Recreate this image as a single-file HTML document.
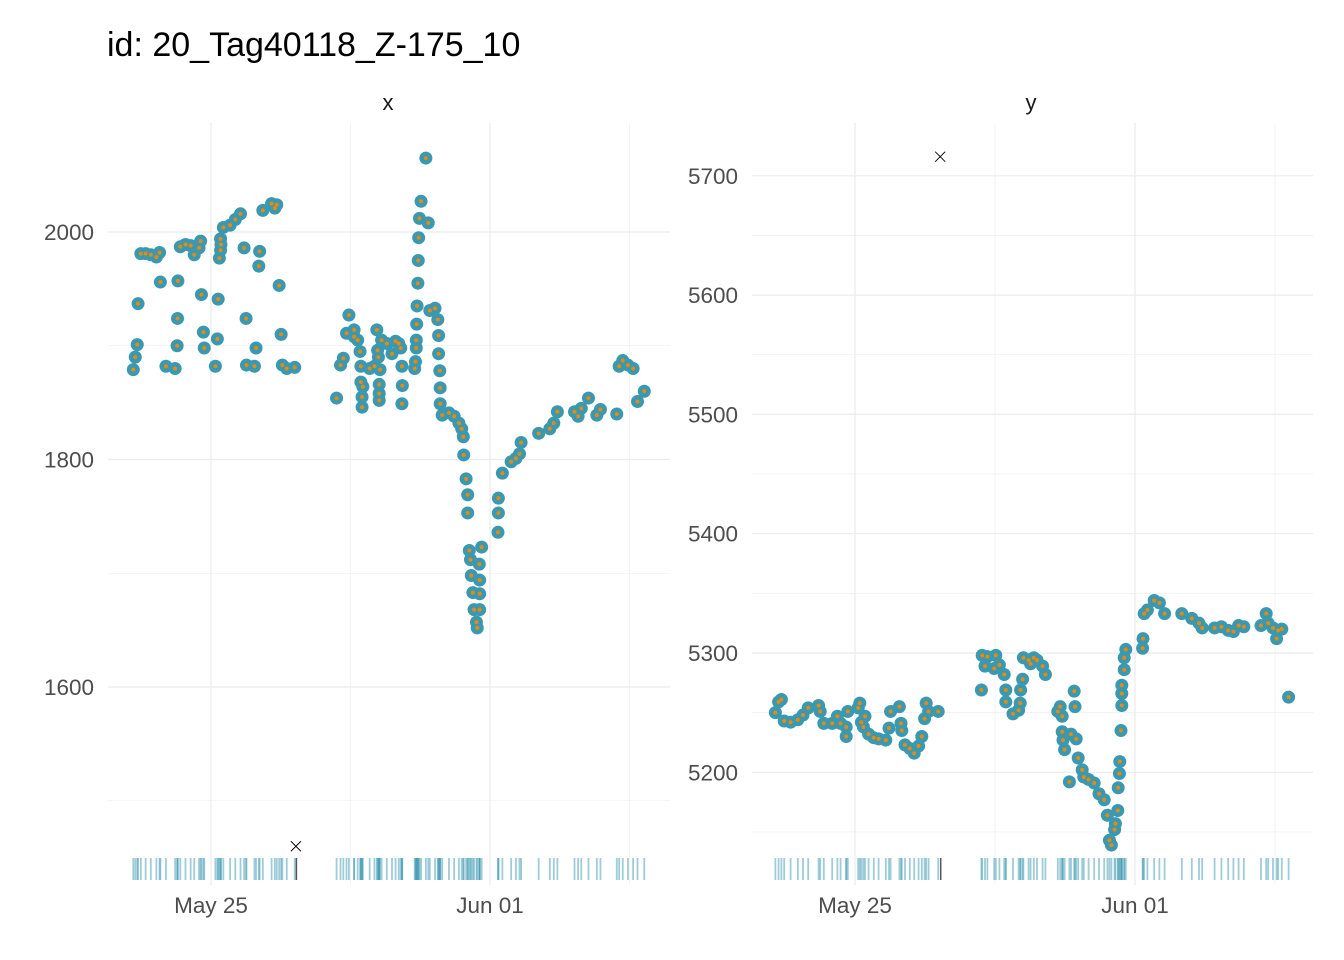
<!DOCTYPE html>
<html><head><meta charset="utf-8"><style>
body{margin:0;background:#fff;}
svg{display:block;font-family:"Liberation Sans",sans-serif;}
</style></head><body>
<svg id="chart" width="1344" height="960"></svg>
<script>
const dayX=[-1.95,-1.90,-1.85,-1.83,-1.76,-1.64,-1.51,-1.37,-1.29,-1.27,-1.13,-0.90,-0.85,-0.84,-0.83,-0.77,-0.64,-0.51,-0.42,-0.30,-0.26,-0.24,-0.19,-0.17,0.11,0.16,0.18,0.21,0.24,0.25,0.24,0.31,0.48,0.61,0.74,0.83,0.88,0.89,1.09,1.13,1.20,1.22,1.30,1.52,1.60,1.65,1.71,1.76,1.79,1.90,2.10,3.15,3.25,3.32,3.40,3.46,3.59,3.59,3.68,3.74,3.76,3.81,3.79,3.79,3.76,3.98,4.10,4.24,4.16,4.18,4.20,4.22,4.22,4.22,4.28,4.41,4.54,4.63,4.71,4.76,4.79,4.80,4.79,5.11,5.13,5.15,5.15,5.16,5.17,5.19,5.20,5.21,5.23,5.27,5.45,5.39,5.49,5.62,5.69,5.71,5.71,5.74,5.75,5.75,5.80,5.97,6.10,6.22,6.29,6.33,6.34,6.40,6.44,6.44,6.79,6.73,6.48,6.51,6.53,6.74,6.57,6.74,6.60,6.74,6.66,6.68,7.20,7.21,7.21,7.31,7.53,7.65,7.74,7.78,8.22,8.50,8.60,8.69,9.12,9.21,9.29,9.47,9.68,9.77,10.18,10.24,10.33,10.46,10.59,10.70,10.87];
const valX=[1879,1890,1901,1937,1981,1981,1980,1978,1982,1956,1882,1880,1900,1924,1957,1987,1989,1988,1980,1986,1992,1945,1912,1898,1882,1906,1941,1977,1984,1989,1994,2004,2006,2011,2016,1986,1924,1883,1882,1898,1970,1983,2019,2025,2021,2024,1953,1910,1883,1880,1881,1854,1883,1889,1911,1927,1914,1908,1905,1895,1868,1864,1855,1846,1882,1880,1882,1879,1914,1896,1890,1866,1858,1852,1905,1902,1893,1904,1902,1898,1882,1865,1849,1880,1886,1898,1905,1919,1935,1955,1975,1995,2012,2027,2008,2065,1931,1933,1923,1909,1893,1878,1863,1849,1839,1841,1838,1832,1827,1820,1804,1783,1769,1753,1723,1708,1720,1712,1698,1694,1683,1682,1668,1668,1657,1652,1736,1753,1766,1788,1798,1801,1805,1815,1823,1827,1832,1842,1842,1838,1845,1854,1839,1844,1840,1882,1887,1883,1880,1851,1860];
const dayY=[-1.99,-1.91,-1.84,-1.77,-1.61,-1.43,-1.30,-1.17,-0.91,-0.87,-0.78,-0.57,-0.44,-0.36,-0.22,-0.22,-0.18,0.08,0.12,0.16,0.25,0.21,0.34,0.47,0.59,0.77,0.85,0.89,1.11,1.15,1.17,1.25,1.37,1.48,1.59,1.67,1.74,1.78,1.84,2.08,3.16,3.18,3.31,3.52,3.48,3.25,3.61,3.73,3.77,3.77,3.95,4.09,4.13,4.14,4.19,4.21,4.34,4.47,4.39,4.55,4.69,4.76,5.07,5.13,5.18,5.18,5.20,5.24,5.36,5.40,5.48,5.50,5.53,5.58,5.68,5.72,5.84,5.98,6.10,6.23,6.31,6.36,6.41,6.49,6.51,6.57,6.58,6.61,6.62,6.65,6.67,6.67,6.67,6.73,6.73,6.77,7.19,7.20,7.23,7.31,7.48,7.61,7.74,8.17,8.42,8.60,8.68,8.99,9.16,9.33,9.46,9.59,9.72,10.15,10.28,10.33,10.45,10.54,10.58,10.67,10.84];
const valY=[5250,5259,5261,5243,5242,5244,5248,5254,5256,5251,5241,5241,5247,5241,5238,5230,5251,5254,5258,5242,5247,5238,5232,5229,5228,5227,5237,5251,5255,5241,5235,5223,5220,5216,5222,5230,5245,5258,5251,5251,5269,5298,5297,5298,5287,5289,5290,5282,5269,5259,5249,5252,5258,5269,5278,5296,5294,5296,5291,5294,5289,5282,5251,5255,5247,5234,5227,5219,5192,5232,5268,5255,5228,5212,5202,5196,5194,5191,5182,5177,5164,5143,5139,5152,5157,5168,5187,5199,5209,5235,5256,5266,5273,5286,5296,5303,5304,5312,5333,5336,5344,5342,5333,5333,5329,5325,5321,5321,5322,5319,5318,5323,5322,5323,5333,5325,5321,5312,5319,5320,5263];
const outlierDay=[2.13];
const outlierX=[1460];
const outlierY=[5716];
const xTickDays=[0,7];
const xTickLabels=["May 25","Jun 01"];
const yTicksX=[1600,1800,2000];
const yMinorX=[1500,1700,1900];
const yTicksY=[5200,5300,5400,5500,5600,5700];
const yMinorY=[5150,5250,5350,5450,5550,5650];

const NS="http://www.w3.org/2000/svg";
const svg=document.getElementById('chart');
function mk(tag,attrs,parent){const e=document.createElementNS(NS,tag);for(const k in attrs)e.setAttribute(k,attrs[k]);(parent||svg).appendChild(e);return e;}

const title=mk('text',{x:107,y:56,'font-size':34,fill:'#000'});
title.textContent='id: 20_Tag40118_Z-175_10';



const panels=[
 {name:'x',l:108,r:670,sx:d=>211+d*39.86,sy:v=>232+(2000-v)*1.1375,days:dayX,vals:valX,major:yTicksX,minor:yMinorX,oy:outlierX,labelX:388},
 {name:'y',l:752,r:1313,sx:d=>855+d*40,sy:v=>653+(5300-v)*1.193,days:dayY,vals:valY,major:yTicksY,minor:yMinorY,oy:outlierY,labelX:1031}
];
const panelTop=123,panelBottom=885;
panels.forEach(p=>{
 const g=mk('g',{});
 
 
 const strip=mk('text',{x:p.labelX,y:110,'font-size':22,fill:'#1a1a1a','text-anchor':'middle'},g);
 strip.textContent=p.name;
 
 
 p.minor.forEach(v=>{mk('line',{x1:p.l,x2:p.r,y1:p.sy(v),y2:p.sy(v),stroke:'#ebebeb','stroke-width':0.6},g);});
 [-3.5,3.5,10.5].forEach(d=>{const x=p.sx(d);if(x>p.l&&x<p.r)mk('line',{x1:x,x2:x,y1:panelTop,y2:panelBottom,stroke:'#ebebeb','stroke-width':0.6},g);});
 p.major.forEach(v=>{
  const y=p.sy(v);
  mk('line',{x1:p.l,x2:p.r,y1:y,y2:y,stroke:'#ebebeb','stroke-width':1.2},g);
  const t=mk('text',{x:p.l-14,y:y+8,'font-size':22.5,fill:'#4d4d4d','text-anchor':'end'},g);
  t.textContent=v;
  
  
 });
 xTickDays.forEach((d,i)=>{
  const x=p.sx(d);
  mk('line',{x1:x,x2:x,y1:panelTop,y2:panelBottom,stroke:'#ebebeb','stroke-width':1.2},g);
  const t=mk('text',{x:x,y:913,'font-size':22.5,fill:'#4d4d4d','text-anchor':'middle'},g);
  t.textContent=xTickLabels[i];
  
  
 });
 p.days.forEach(d=>{
  const r=mk('line',{x1:p.sx(d),x2:p.sx(d),y1:858,y2:880,stroke:'#3d9ab3','stroke-width':1.8,'stroke-opacity':0.5},g);
  
  
 });
 outlierDay.forEach(d=>{mk('line',{x1:p.sx(d)+0.5,x2:p.sx(d)+0.5,y1:858,y2:880,stroke:'#555','stroke-width':1.5},g);});
 p.days.forEach((d,i)=>{
  const c=mk('circle',{cx:p.sx(d),cy:p.sy(p.vals[i]),r:6.5,fill:'#3a98b0'},g);
  
  
 });
 p.days.forEach((d,i)=>{mk('circle',{cx:p.sx(d),cy:p.sy(p.vals[i]),r:2,fill:'#e88a0c'},g);});
 outlierDay.forEach((d,i)=>{
  const x=p.sx(d),y=p.sy(p.oy[i]);
  const o=mk('path',{d:`M${x-5},${y-5}L${x+5},${y+5}M${x-5},${y+5}L${x+5},${y-5}`,stroke:'#000','stroke-width':0.9},g);
  
  
 });
});
</script>
</body></html>
